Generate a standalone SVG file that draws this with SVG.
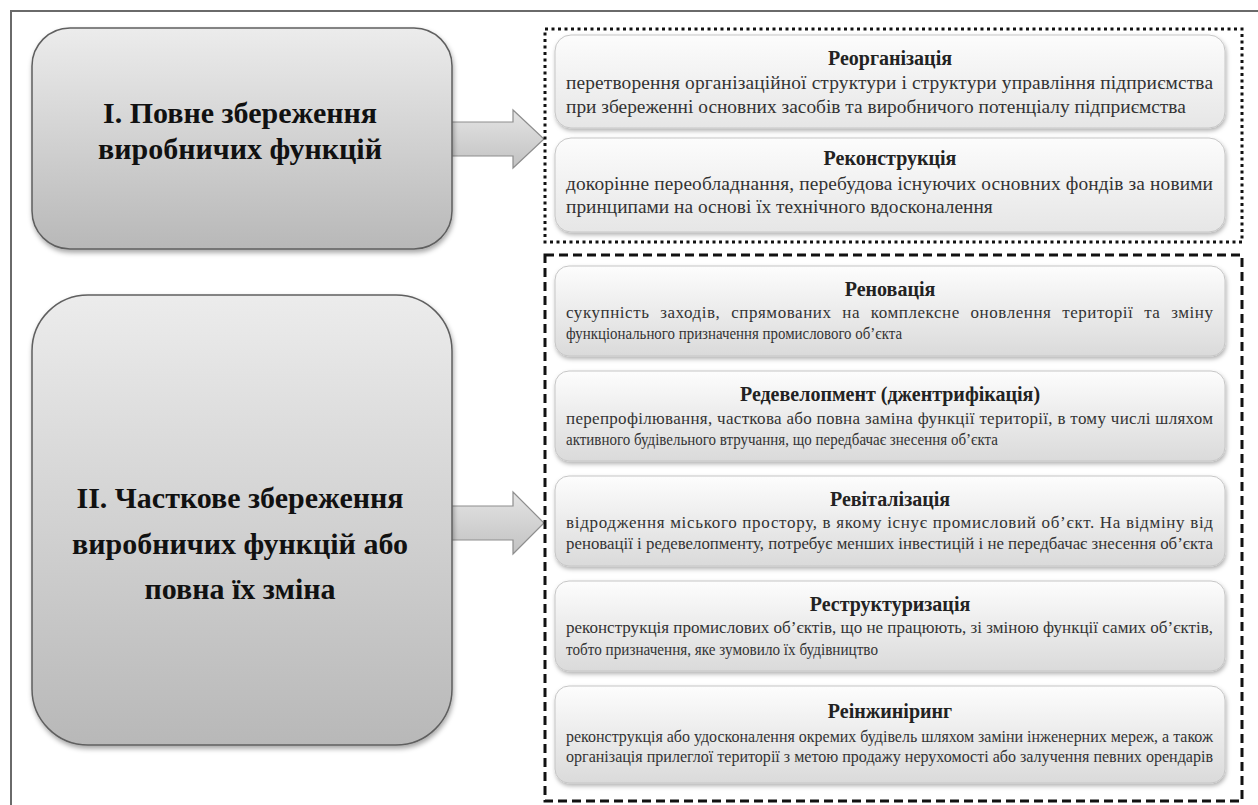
<svg xmlns="http://www.w3.org/2000/svg" width="1258" height="805" viewBox="0 0 1258 805">
<defs>
<linearGradient id="gBig" x1="0" y1="0" x2="0" y2="1">
<stop offset="0" stop-color="#ececec"/>
<stop offset="1" stop-color="#b8b8b8"/>
</linearGradient>
<linearGradient id="gItem" x1="0" y1="0" x2="0" y2="1">
<stop offset="0" stop-color="#fdfdfd"/>
<stop offset="1" stop-color="#dadada"/>
</linearGradient>
<linearGradient id="gTop" x1="0" y1="0" x2="0" y2="1">
<stop offset="0" stop-color="#fcfcfc"/>
<stop offset="1" stop-color="#e6e6e6"/>
</linearGradient>
<linearGradient id="gArrow" x1="0" y1="0" x2="0" y2="1">
<stop offset="0" stop-color="#e4e4e4"/>
<stop offset="1" stop-color="#c2c2c2"/>
</linearGradient>
<filter id="sh" x="-10%" y="-10%" width="120%" height="130%">
<feDropShadow dx="1" dy="3" stdDeviation="2.5" flood-color="#000" flood-opacity="0.35"/>
</filter>
<filter id="sh2" x="-10%" y="-10%" width="120%" height="140%">
<feDropShadow dx="1" dy="2.5" stdDeviation="2" flood-color="#000" flood-opacity="0.3"/>
</filter>
</defs>
<style>
.big{fill:url(#gBig);stroke:#5f5f5f;stroke-width:1.5;filter:url(#sh)}
.item{fill:url(#gItem);stroke:#c6c6c6;stroke-width:1;filter:url(#sh2)}
.itemTop{fill:url(#gTop);stroke:#c6c6c6;stroke-width:1;filter:url(#sh2)}
.arrow{fill:url(#gArrow);stroke:#8e8e8e;stroke-width:1.2}
.bigT{font-family:"Liberation Serif","Times New Roman",serif;font-weight:bold;font-size:30px;fill:#111;text-anchor:middle}
.ttl{font-family:"Liberation Serif","Times New Roman",serif;font-weight:bold;font-size:20px;fill:#222;text-anchor:middle}
.dTop{font-family:"Liberation Serif","Times New Roman",serif;font-size:19.4px;fill:#333}
.dBot{font-family:"Liberation Serif","Times New Roman",serif;font-size:17px;fill:#333}
.frame{stroke:#6a6a6a;stroke-width:2;fill:none}
.dotted{fill:none;stroke:#111;stroke-width:3;stroke-dasharray:3 3.5}
.dashed{fill:none;stroke:#111;stroke-width:3;stroke-dasharray:9 5}
</style>
<rect width="1258" height="805" fill="#ffffff"/>
<path class="frame" d="M11,805 V11 H1258"/>

<g id="connectors">
<polygon class="arrow" points="440,122 513,122 513,110 544,139 513,168 513,156 440,156"/>
<polygon class="arrow" points="440,506 513,506 513,492 544,523 513,554 513,540 440,540"/>
</g>

<g id="group-top">
<rect class="dotted" x="545" y="29" width="697" height="213"/>
</g>
<g id="group-bottom">
<rect class="dashed" x="545" y="255" width="697" height="546"/>
</g>

<g id="node-full">
<rect class="big" x="32" y="28" width="420" height="221" rx="38"/>
<text class="bigT" x="240" y="123">І. Повне збереження</text>
<text class="bigT" x="240" y="159">виробничих функцій</text>
</g>

<g id="node-partial">
<rect class="big" x="32" y="295" width="420" height="450" rx="56"/>
<text class="bigT" x="240" y="508">ІІ. Часткове збереження</text>
<text class="bigT" x="240" y="554">виробничих функцій або</text>
<text class="bigT" x="240" y="599">повна їх зміна</text>
</g>

<g id="node-reorganization">
<rect class="itemTop" x="555" y="35" width="670" height="93" rx="16"/>
<text class="ttl" x="890" y="65">Реорганізація</text>
<text class="dTop" x="566" y="89" textLength="647" lengthAdjust="spacing">перетворення організаційної структури і структури управління підприємства</text>
<text class="dTop" x="566" y="113">при збереженні основних засобів та виробничого потенціалу підприємства</text>
</g>

<g id="node-reconstruction">
<rect class="itemTop" x="555" y="138" width="670" height="94" rx="16"/>
<text class="ttl" x="890" y="165">Реконструкція</text>
<text class="dTop" x="566" y="190" textLength="647" lengthAdjust="spacing">докорінне переобладнання, перебудова існуючих основних фондів за новими</text>
<text class="dTop" x="566" y="213">принципами на основі їх технічного вдосконалення</text>
</g>

<g id="node-renovation">
<rect class="item" x="555" y="266" width="670" height="90" rx="14"/>
<text class="ttl" x="890" y="296">Реновація</text>
<text class="dBot" x="566" y="318" textLength="647" lengthAdjust="spacing" word-spacing="6">сукупність заходів, спрямованих на комплексне оновлення території та зміну</text>
<text class="dBot" x="566" y="339" textLength="336" lengthAdjust="spacingAndGlyphs">функціонального призначення промислового об’єкта</text>
</g>

<g id="node-redevelopment">
<rect class="item" x="555" y="371" width="670" height="90" rx="14"/>
<text class="ttl" x="890" y="401">Редевелопмент (джентрифікація)</text>
<text class="dBot" x="566" y="424" textLength="647" lengthAdjust="spacing">перепрофілювання, часткова або повна заміна функції території, в тому числі шляхом</text>
<text class="dBot" x="566" y="445" textLength="432" lengthAdjust="spacingAndGlyphs">активного будівельного втручання, що передбачає знесення об’єкта</text>
</g>

<g id="node-revitalization">
<rect class="item" x="555" y="476" width="670" height="90" rx="14"/>
<text class="ttl" x="890" y="506">Ревіталізація</text>
<text class="dBot" x="566" y="528" textLength="647" lengthAdjust="spacing">відродження міського простору, в якому існує промисловий об’єкт. На відміну від</text>
<text class="dBot" x="566" y="549" textLength="647" lengthAdjust="spacingAndGlyphs">реновації і редевелопменту, потребує менших інвестицій і не передбачає знесення об’єкта</text>
</g>

<g id="node-restructuring">
<rect class="item" x="555" y="581" width="670" height="90" rx="14"/>
<text class="ttl" x="890" y="611">Реструктуризація</text>
<text class="dBot" x="566" y="633" textLength="647" lengthAdjust="spacingAndGlyphs">реконструкція промислових об’єктів, що не працюють, зі зміною функції самих об’єктів,</text>
<text class="dBot" x="566" y="655" textLength="312" lengthAdjust="spacingAndGlyphs">тобто призначення, яке зумовило їх будівництво</text>
</g>

<g id="node-reengineering">
<rect class="item" x="555" y="686" width="670" height="97" rx="14"/>
<text class="ttl" x="890" y="718">Реінжиніринг</text>
<text class="dBot" x="566" y="742" textLength="647" lengthAdjust="spacingAndGlyphs">реконструкція або удосконалення окремих будівель шляхом заміни інженерних мереж, а також</text>
<text class="dBot" x="566" y="762" textLength="647" lengthAdjust="spacingAndGlyphs">організація прилеглої території з метою продажу нерухомості або залучення певних орендарів</text>
</g>
</svg>
